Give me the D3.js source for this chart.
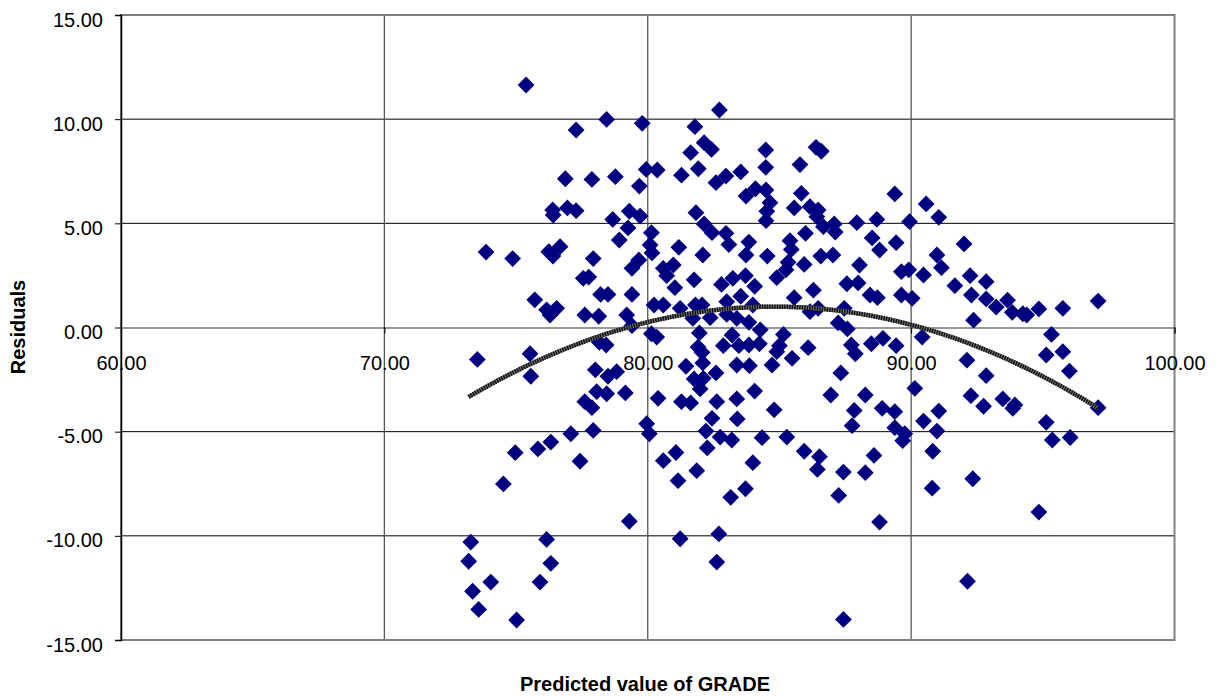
<!DOCTYPE html>
<html>
<head>
<meta charset="utf-8">
<script src="https://cdn.jsdelivr.net/npm/d3@7"></script>
<style>
  html, body { margin: 0; padding: 0; background: #fff; }
  svg { display: block; font-family: "Liberation Sans", Arial, sans-serif; }
</style>
</head>
<body>
<svg id="chart" width="1220" height="696"></svg>
<script>
const predicted = [
  75.38, 78.44, 79.79, 77.28, 79.94, 80.36, 76.87, 77.88, 78.77, 79.68,
  76.39, 76.41, 76.95, 77.28, 78.67, 79.30, 79.71, 79.25, 80.14, 78.92,
  80.09, 80.16, 73.86, 74.87, 76.24, 76.67, 76.40, 77.93, 79.66, 79.40,
  82.72, 81.79, 82.14, 82.42, 81.63, 84.48, 86.39, 86.59, 81.92, 84.48,
  85.78, 81.28, 82.59, 82.97, 83.53, 83.73, 84.09, 84.49, 84.64, 84.52,
  84.49, 85.83, 85.56, 86.16, 86.47, 86.42, 86.67, 87.08, 87.12, 87.94,
  88.70, 81.83, 82.14, 82.44, 82.97, 83.08, 83.84, 83.73, 81.18, 85.40,
  85.45, 85.99, 82.09, 84.54, 86.57, 87.03, 88.52, 88.80,
  89.38, 90.57, 91.05, 89.94, 89.43, 92.01, 90.98,
  80.59, 80.72, 77.55, 77.76, 75.71, 76.16, 76.54, 76.29, 78.21, 78.49,
  79.40, 77.61, 78.14, 79.20, 79.40, 80.24, 80.59, 73.53, 75.53, 75.56,
  78.01, 78.16, 78.42, 78.49, 78.82, 80.14, 80.34, 77.61, 77.88, 78.06,
  78.44, 79.15, 80.39, 79.96, 80.06, 77.08, 77.93, 76.32, 75.83,
  85.33, 85.94, 88.04, 80.97, 81.76, 82.80, 83.23, 83.71, 84.06, 84.90,
  85.25, 86.29, 85.56, 87.56, 87.99, 88.44, 88.72, 81.03, 81.23, 81.81,
  82.06, 83.00, 83.53, 83.99, 83.00, 83.38, 83.84, 82.37, 81.71, 86.16,
  86.47, 87.23, 87.58, 87.46, 81.96, 84.27, 85.15, 83.20, 82.87, 83.46,
  83.84, 84.24, 81.91, 82.06, 85.00, 84.90, 86.09, 87.73, 87.88, 88.49,
  88.93, 81.45, 82.09, 83.38, 83.86, 84.72, 85.48, 82.59, 81.76, 82.11,
  81.99, 87.33, 84.06, 81.28, 81.63, 82.62, 83.38, 84.80, 86.95, 88.26,
  87.84, 88.90, 82.44, 83.40, 87.76, 82.21, 82.75, 83.19, 84.34, 85.28,
  91.15, 89.63, 89.91, 90.47, 91.66, 92.24, 92.29, 92.85, 89.63, 90.04,
  92.85, 93.23, 93.66, 93.84, 94.24, 94.39, 94.85, 95.76, 97.10, 92.37,
  95.33, 90.42, 89.43, 95.13, 95.76, 96.01, 92.12, 92.85, 90.14, 92.27,
  92.75, 93.48, 93.86, 93.94, 97.10, 89.38, 91.05, 90.47, 90.98, 89.38,
  89.76, 95.13, 95.36, 96.04, 89.68,
  74.97, 77.43, 74.52, 79.30, 80.59, 73.28, 76.16, 73.20, 76.32, 74.04,
  75.91, 73.35, 73.58, 75.02,
  81.07, 82.26, 83.99, 85.94, 86.52, 86.44, 87.43, 88.26, 88.59, 81.86,
  81.15, 83.15, 83.71, 87.25, 88.80, 81.23, 82.70, 82.62, 87.43,
  90.82, 90.80, 92.34, 94.85, 92.14
];
const residuals = [
  11.64, 9.99, 9.80, 9.48, 7.59, 7.56, 7.14, 7.11, 7.24, 6.79,
  5.64, 5.40, 5.74, 5.61, 5.19, 5.58, 5.35, 4.78, 4.55, 4.20,
  3.96, 3.58, 3.62, 3.31, 3.64, 3.88, 3.43, 3.31, 3.24, 2.84,
  10.44, 9.64, 8.87, 8.55, 8.39, 8.52, 8.65, 8.46, 7.62, 7.69,
  7.82, 7.31, 6.95, 7.27, 7.47, 6.31, 6.66, 6.60, 5.99, 5.58,
  5.13, 6.44, 5.74, 5.80, 5.64, 5.32, 4.84, 4.97, 4.58, 5.03,
  5.19, 5.51, 4.97, 4.55, 4.52, 3.98, 4.10, 3.48, 3.85, 4.17,
  3.75, 4.52, 3.48, 3.43, 3.43, 3.48, 4.30, 3.72,
  6.41, 5.93, 5.29, 5.08, 4.07, 4.01, 3.48,
  2.84, 2.49, 2.36, 2.42, 1.33, 0.85, 0.92, 0.60, 1.59, 1.59,
  1.59, 0.60, 0.54, 0.60, 0.09, 1.08, 1.08, -1.53, -1.26, -2.34,
  -2.03, -0.71, -0.84, -2.34, -2.12, -0.30, -0.46, -3.56, -3.85, -3.08,
  -3.18, -3.14, -3.40, -4.62, -5.10, -5.10, -4.94, -5.50, -5.83,
  3.13, 3.03, 3.00, 3.00, 2.29, 2.07, 2.36, 2.49, 1.98, 2.39,
  2.77, 1.79, 1.43, 2.10, 2.14, 1.56, 1.43, 1.91, 0.92, 1.08,
  1.08, 1.24, 1.50, 1.08, 0.63, 0.44, 0.25, 0.47, 0.44, 0.76,
  0.92, 0.22, -0.07, 0.92, -0.26, -0.11, -0.33, -0.36, -0.87, -0.87,
  -0.84, -0.78, -0.94, -1.19, -0.87, -1.16, -0.97, -0.84, -1.26, -0.78,
  -0.52, -1.86, -1.70, -1.80, -1.83, -1.80, -1.48, -2.18, -2.47, -2.44,
  -2.95, -2.18, -3.05, -3.56, -3.62, -3.56, -3.43, -3.95, -3.24, -3.24,
  -3.98, -3.88, -4.36, -4.39, -4.71, -4.97, -5.26, -5.40, -5.29, -5.26,
  2.87, 2.68, 2.77, 2.52, 2.01, 2.49, 1.56, 2.20, 1.56, 1.40,
  1.37, 0.98, 1.31, 0.73, 0.66, 0.60, 0.89, 0.92, 1.27, 0.35,
  -0.33, -0.46, -0.87, -1.32, -1.16, -2.09, -1.57, -2.31, -2.92, -3.27,
  -3.78, -3.43, -3.88, -3.72, -3.85, -4.04, -4.01, -4.49, -4.97, -4.81,
  -5.10, -4.55, -5.40, -5.28, -5.43,
  -6.01, -6.42, -7.51, -9.30, -6.39, -10.30, -10.17, -11.22, -11.32, -12.22,
  -12.22, -12.66, -13.53, -14.04,
  -6.00, -5.78, -6.49, -5.94, -6.20, -6.81, -6.94, -6.97, -6.14, -6.87,
  -7.35, -8.15, -7.74, -8.06, -9.34, -10.14, -9.91, -11.26, -14.01,
  -5.94, -7.71, -7.26, -8.86, -12.18
];
const xTicks = [60, 70, 80, 90, 100];
const yTicks = [-15, -10, -5, 0, 5, 10, 15];
const xTitle = "Predicted value of GRADE";
const yTitle = "Residuals";
// order-2 polynomial trendline (vertex form: peak x, peak y, curvature)
const trendVertex = [84.8, 1.0];
const trendCurvature = -0.0322;

const svg = d3.select("#chart");
const plot = { left: 121, right: 1174.5, top: 15, bottom: 640 };
const x = d3.scaleLinear().domain([60, 100]).range([plot.left, plot.right]);
const y = d3.scaleLinear().domain([-15, 15]).range([plot.bottom, plot.top]);
const locale = d3.formatLocale({ decimal: ".", thousands: ",", grouping: [3], currency: ["$", ""], minus: "-" });
const fmt = locale.format(".2f");

// gridlines
const grid = svg.append("g");
grid.selectAll("line.h").data(yTicks.filter(v => v > -15 && v < 15 && v !== 0)).join("line")
  .attr("x1", plot.left).attr("x2", plot.right)
  .attr("y1", d => y(d)).attr("y2", d => y(d))
  .attr("stroke", "#000").attr("stroke-width", 1);
grid.selectAll("line.v").data(xTicks.filter(v => v > 60 && v < 100)).join("line")
  .attr("y1", plot.top).attr("y2", plot.bottom)
  .attr("x1", d => x(d)).attr("x2", d => x(d))
  .attr("stroke", "#555").attr("stroke-width", 1.3);

// plot border
svg.append("rect")
  .attr("x", plot.left).attr("y", plot.top)
  .attr("width", plot.right - plot.left).attr("height", plot.bottom - plot.top)
  .attr("fill", "none").attr("stroke", "#808080").attr("stroke-width", 2);

// y axis
const yAxis = svg.append("g").attr("transform", `translate(${plot.left},0)`)
  .call(d3.axisLeft(y).tickValues(yTicks).tickFormat(fmt).tickSize(6).tickPadding(12));
yAxis.select(".domain").attr("stroke", "#000").attr("stroke-width", 1.5);
yAxis.selectAll(".tick line").attr("stroke", "#000");
yAxis.selectAll(".tick text").attr("font-size", 20).attr("fill", "#000")
  .attr("font-family", "Liberation Sans, Arial, sans-serif").attr("dy", "0.55em");

// x axis at y = 0
const xAxis = svg.append("g").attr("transform", `translate(0,${y(0)})`)
  .call(d3.axisBottom(x).tickValues(xTicks).tickFormat(fmt).tickSize(6).tickPadding(22));
xAxis.select(".domain").attr("stroke", "#333").attr("stroke-width", 1.2);
xAxis.selectAll(".tick line").attr("stroke", "#000");
xAxis.selectAll(".tick text").attr("font-size", 20).attr("fill", "#000")
  .attr("font-family", "Liberation Sans, Arial, sans-serif");

// points
const pts = predicted.map((p, i) => ({ p, r: residuals[i] }));
const diamond = "M0,-8.4L8.4,0L0,8.4L-8.4,0Z";
svg.append("g").selectAll("path").data(pts).join("path")
  .attr("d", diamond)
  .attr("transform", d => `translate(${x(d.p)},${y(d.r)})`)
  .attr("fill", "#000080");

// trendline over the range of the data
const fit = v => trendVertex[1] + trendCurvature * (v - trendVertex[0]) * (v - trendVertex[0]);
const [xmin, xmax] = d3.extent(predicted);
const trend = d3.range(0, 201).map(i => xmin + (xmax - xmin) * i / 200).map(v => [v, fit(v)]);
const line = d3.line().x(d => x(d[0])).y(d => y(d[1]));
svg.append("path").datum(trend).attr("d", line)
  .attr("fill", "none").attr("stroke", "#777").attr("stroke-width", 4.5);
svg.append("path").datum(trend).attr("d", line)
  .attr("fill", "none").attr("stroke", "#111").attr("stroke-width", 4.5)
  .attr("stroke-dasharray", "1.5,1");

// titles
svg.append("text").attr("x", 645).attr("y", 691).attr("text-anchor", "middle")
  .attr("font-size", 20).attr("font-weight", "bold").text(xTitle);
svg.append("text").attr("transform", `translate(25,${327}) rotate(-90)`)
  .attr("text-anchor", "middle").attr("font-size", 20).attr("font-weight", "bold").text(yTitle);
</script>
</body>
</html>
